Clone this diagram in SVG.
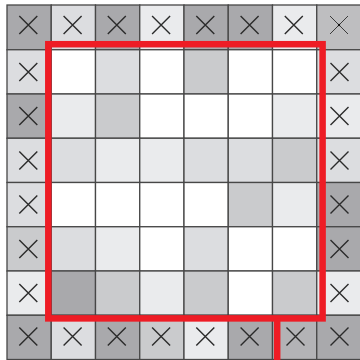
<svg xmlns="http://www.w3.org/2000/svg" width="360" height="360" viewBox="0 0 360 360">
<style>
.c{stroke:#474747;stroke-width:1.3}
.D{fill:#a9a9ac}.M{fill:#cacbcd}.L{fill:#dcdde0}.V{fill:#eaebed}.W{fill:#ffffff}.M2{fill:#bebec0}.D2{fill:#b3b3b6}
.x{stroke:#2b2b2b;stroke-width:1.4;fill:none}
.r{stroke:#ee1c25;stroke-width:6.5;fill:none}
</style>
<defs>
<path id="X" class="x" d="M-9,-9L9,9M-9,9L9,-9"/>
</defs>
<rect width="360" height="360" fill="#ffffff"/>
<g id="cells">
<!-- row 0 -->
<rect class="c D" x="7" y="5" width="44.25" height="44.75"/>
<rect class="c L" x="51.25" y="5" width="44.25" height="44.75"/>
<rect class="c D" x="95.5" y="5" width="44.25" height="44.75"/>
<rect class="c V" x="139.75" y="5" width="44.25" height="44.75"/>
<rect class="c D" x="184" y="5" width="44.25" height="44.75"/>
<rect class="c D" x="228.25" y="5" width="44.25" height="44.75"/>
<rect class="c V" x="272.5" y="5" width="44.25" height="44.75"/>
<rect class="c M2" x="316.75" y="5" width="44.25" height="44.75"/>
<!-- row 1 -->
<rect class="c L" x="7" y="49.75" width="44.25" height="44.25"/>
<rect class="c W" x="51.25" y="49.75" width="44.25" height="44.25"/>
<rect class="c L" x="95.5" y="49.75" width="44.25" height="44.25"/>
<rect class="c W" x="139.75" y="49.75" width="44.25" height="44.25"/>
<rect class="c M" x="184" y="49.75" width="44.25" height="44.25"/>
<rect class="c W" x="228.25" y="49.75" width="44.25" height="44.25"/>
<rect class="c W" x="272.5" y="49.75" width="44.25" height="44.25"/>
<rect class="c L" x="316.75" y="49.75" width="44.25" height="44.25"/>
<!-- row 2 -->
<rect class="c D" x="7" y="94" width="44.25" height="44.25"/>
<rect class="c V" x="51.25" y="94" width="44.25" height="44.25"/>
<rect class="c M" x="95.5" y="94" width="44.25" height="44.25"/>
<rect class="c W" x="139.75" y="94" width="44.25" height="44.25"/>
<rect class="c W" x="184" y="94" width="44.25" height="44.25"/>
<rect class="c W" x="228.25" y="94" width="44.25" height="44.25"/>
<rect class="c V" x="272.5" y="94" width="44.25" height="44.25"/>
<rect class="c V" x="316.75" y="94" width="44.25" height="44.25"/>
<!-- row 3 -->
<rect class="c L" x="7" y="138.25" width="44.25" height="44.25"/>
<rect class="c L" x="51.25" y="138.25" width="44.25" height="44.25"/>
<rect class="c V" x="95.5" y="138.25" width="44.25" height="44.25"/>
<rect class="c V" x="139.75" y="138.25" width="44.25" height="44.25"/>
<rect class="c L" x="184" y="138.25" width="44.25" height="44.25"/>
<rect class="c L" x="228.25" y="138.25" width="44.25" height="44.25"/>
<rect class="c M" x="272.5" y="138.25" width="44.25" height="44.25"/>
<rect class="c L" x="316.75" y="138.25" width="44.25" height="44.25"/>
<!-- row 4 -->
<rect class="c L" x="7" y="182.5" width="44.25" height="44.25"/>
<rect class="c W" x="51.25" y="182.5" width="44.25" height="44.25"/>
<rect class="c W" x="95.5" y="182.5" width="44.25" height="44.25"/>
<rect class="c W" x="139.75" y="182.5" width="44.25" height="44.25"/>
<rect class="c W" x="184" y="182.5" width="44.25" height="44.25"/>
<rect class="c M" x="228.25" y="182.5" width="44.25" height="44.25"/>
<rect class="c V" x="272.5" y="182.5" width="44.25" height="44.25"/>
<rect class="c D" x="316.75" y="182.5" width="44.25" height="44.25"/>
<!-- row 5 -->
<rect class="c M" x="7" y="226.75" width="44.25" height="44.25"/>
<rect class="c L" x="51.25" y="226.75" width="44.25" height="44.25"/>
<rect class="c V" x="95.5" y="226.75" width="44.25" height="44.25"/>
<rect class="c W" x="139.75" y="226.75" width="44.25" height="44.25"/>
<rect class="c L" x="184" y="226.75" width="44.25" height="44.25"/>
<rect class="c W" x="228.25" y="226.75" width="44.25" height="44.25"/>
<rect class="c W" x="272.5" y="226.75" width="44.25" height="44.25"/>
<rect class="c D" x="316.75" y="226.75" width="44.25" height="44.25"/>
<!-- row 6 -->
<rect class="c V" x="7" y="271" width="44.25" height="44.25"/>
<rect class="c D" x="51.25" y="271" width="44.25" height="44.25"/>
<rect class="c M" x="95.5" y="271" width="44.25" height="44.25"/>
<rect class="c V" x="139.75" y="271" width="44.25" height="44.25"/>
<rect class="c M" x="184" y="271" width="44.25" height="44.25"/>
<rect class="c W" x="228.25" y="271" width="44.25" height="44.25"/>
<rect class="c M" x="272.5" y="271" width="44.25" height="44.25"/>
<rect class="c V" x="316.75" y="271" width="44.25" height="44.25"/>
<!-- row 7 -->
<rect class="c D" x="7" y="315.25" width="44.25" height="44.25"/>
<rect class="c L" x="51.25" y="315.25" width="44.25" height="44.25"/>
<rect class="c D" x="95.5" y="315.25" width="44.25" height="44.25"/>
<rect class="c M" x="139.75" y="315.25" width="44.25" height="44.25"/>
<rect class="c V" x="184" y="315.25" width="44.25" height="44.25"/>
<rect class="c D" x="228.25" y="315.25" width="44.25" height="44.25"/>
<rect class="c D2" x="272.5" y="315.25" width="44.25" height="44.25"/>
<rect class="c D" x="316.75" y="315.25" width="44.25" height="44.25"/>
</g>
<g id="crosses">
<use href="#X" x="28.3" y="25"/>
<use href="#X" x="72.6" y="25"/>
<use href="#X" x="116.8" y="25"/>
<use href="#X" x="161.1" y="25"/>
<use href="#X" x="205.3" y="25"/>
<use href="#X" x="249.6" y="25"/>
<use href="#X" x="293.8" y="25"/>
<path d="M330,16L348,34M330,34L348,16" stroke="#2b2b2b" stroke-width="0.9" fill="none"/>
<circle cx="339" cy="25" r="1.2" fill="#111"/>
<use href="#X" x="28.3" y="71.9"/>
<use href="#X" x="28.3" y="116.1"/>
<use href="#X" x="28.3" y="160.4"/>
<use href="#X" x="28.3" y="204.6"/>
<use href="#X" x="28.3" y="248.9"/>
<use href="#X" x="28.3" y="293.1"/>
<use href="#X" x="339.5" y="71.9"/>
<use href="#X" x="339.5" y="116.1"/>
<use href="#X" x="339.5" y="160.4"/>
<use href="#X" x="339.5" y="204.6"/>
<use href="#X" x="339.5" y="248.9"/>
<use href="#X" x="339.5" y="293.1"/>
<use href="#X" x="28.3" y="336.5"/>
<use href="#X" x="72.6" y="336.5"/>
<use href="#X" x="116.8" y="336.5"/>
<use href="#X" x="161.1" y="336.5"/>
<use href="#X" x="205.3" y="336.5"/>
<use href="#X" x="249.6" y="336.5"/>
<use href="#X" x="295.5" y="336.5"/>
<use href="#X" x="339.5" y="336.5"/>
</g>
<g id="connectors">
<rect class="r" x="48.3" y="44.2" width="274.3" height="274.2"/>
<path class="r" d="M277.2,318.4V362"/>
</g>
</svg>
